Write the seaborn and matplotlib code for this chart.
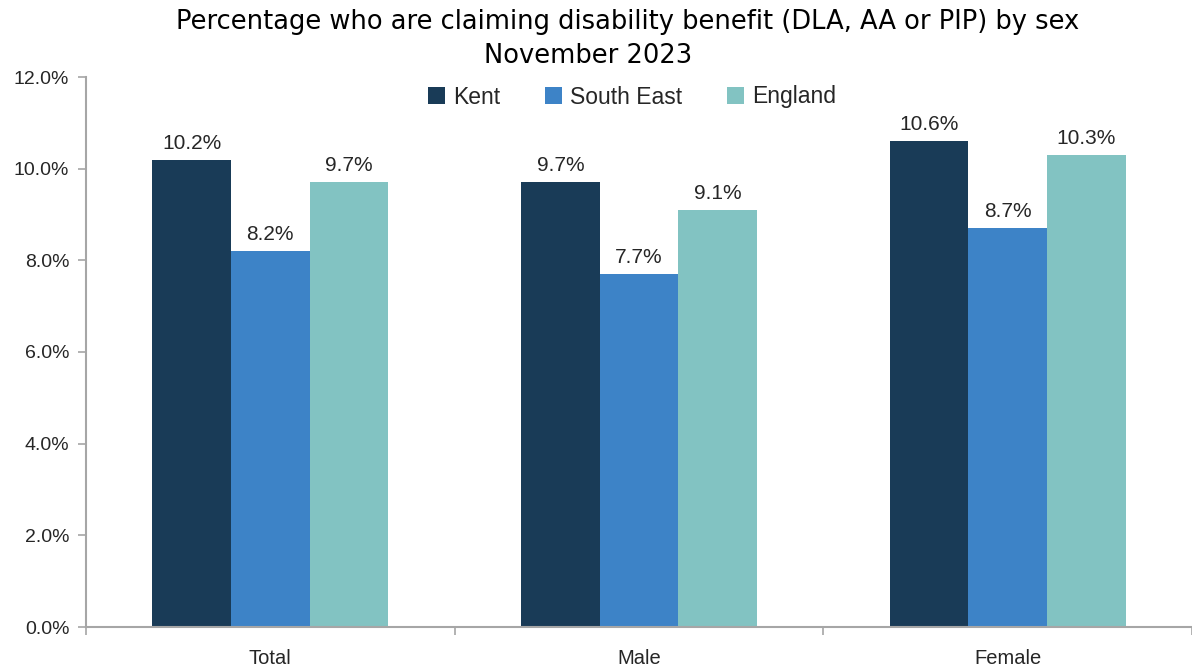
import matplotlib
matplotlib.use("Agg")
import matplotlib.pyplot as plt
from matplotlib.ticker import FuncFormatter, FixedLocator
import seaborn as sns
import pandas as pd

categories = ["Total", "Male", "Female"]
areas = ["Kent", "South East", "England"]
kent = [10.2, 9.7, 10.6]
south_east = [8.2, 7.7, 8.7]
england = [9.7, 9.1, 10.3]
colors = ["#193B57", "#3D83C7", "#82C3C2"]

rows = []
for area, vals in zip(areas, [kent, south_east, england]):
    for cat, v in zip(categories, vals):
        rows.append({"sex": cat, "area": area, "pct": v})
df = pd.DataFrame(rows)

sns.set_theme(style="white")
plt.rcParams["font.family"] = ["Liberation Sans", "DejaVu Sans"]

fig = plt.figure(figsize=(11.92, 6.66), dpi=100)
ax = fig.add_axes([86 / 1192, 39 / 666, 1 - 86 / 1192, 550 / 666])

sns.barplot(data=df, x="sex", y="pct", hue="area", order=categories,
            hue_order=areas, palette=colors, width=0.64, saturation=1,
            ax=ax, legend=True, linewidth=0, errorbar=None)

for cont in ax.containers:
    ax.bar_label(cont, labels=[f"{v:.1f}%" for v in cont.datavalues],
                 padding=5, fontsize=15, color="#262626")

ax.set_xlim(-0.5, 2.5)
ax.set_ylim(0, 12)
ax.set_yticks([0, 2, 4, 6, 8, 10, 12])
ax.yaxis.set_major_formatter(FuncFormatter(lambda v, p: f"{v:.1f}%"))
ax.set_xlabel("")
ax.set_ylabel("")

ax.xaxis.set_minor_locator(FixedLocator([-0.5, 0.5, 1.5, 2.5]))
ax.tick_params(axis="x", which="major", length=0, pad=16, labelsize=14.5, labelcolor="#262626")
ax.tick_params(axis="x", which="minor", length=6, width=1.2, color="#A6A6A6", bottom=True)
ax.tick_params(axis="y", which="major", length=6, width=1.2, color="#A6A6A6", left=True,
               labelsize=14, labelcolor="#262626", pad=6)

for side in ["top", "right"]:
    ax.spines[side].set_visible(False)
for side in ["left", "bottom"]:
    ax.spines[side].set_color("#A6A6A6")
    ax.spines[side].set_linewidth(1.5)

ax.legend(loc="center", bbox_to_anchor=((632 - 86) / 1106, 1 - (97 - 77) / 550), ncol=3,
          frameon=False, fontsize=16.5, handlelength=0.75, handleheight=0.75,
          handletextpad=0.35, columnspacing=1.95)

title_font = ["DejaVu Sans"]
fig.text(628 / 1192, 1 - 22 / 666, "Percentage who are claiming disability benefit (DLA, AA or PIP) by sex",
         ha="center", va="center", fontsize=18.5, color="black", family=title_font)
fig.text(588 / 1192, 1 - 56 / 666, "November 2023", ha="center", va="center",
         fontsize=18.5, color="black", family=title_font)

fig.savefig("out.png", dpi=100)
